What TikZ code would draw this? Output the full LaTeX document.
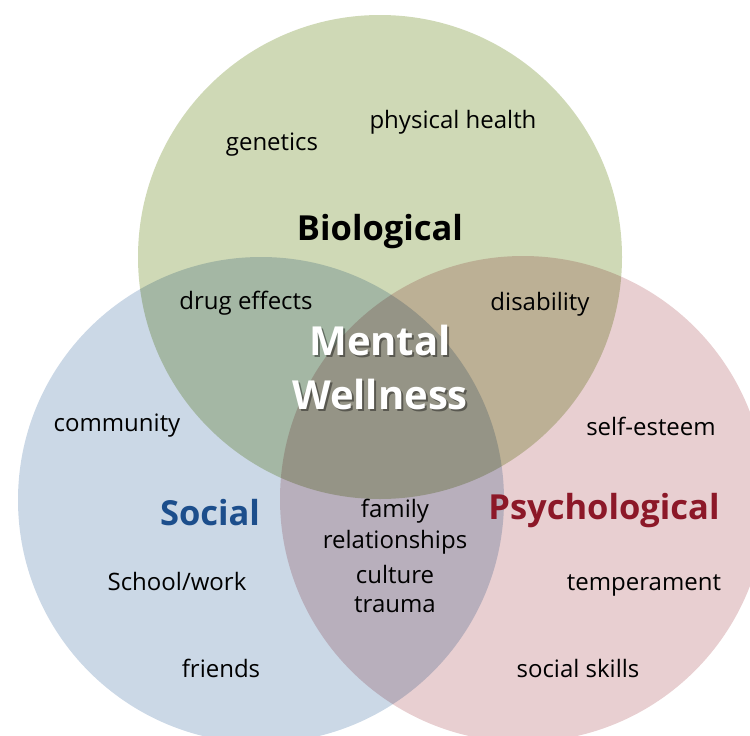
\documentclass[tikz,border=0pt]{standalone}
\usepackage{fontspec}
\setmainfont{Open Sans}
\usetikzlibrary{positioning}
\definecolor{bioGreen}{RGB}{207,217,182}
\definecolor{socBlue}{RGB}{203,216,230}
\definecolor{psyPink}{RGB}{232,207,209}
\definecolor{socText}{RGB}{28,78,140}
\definecolor{psyText}{RGB}{140,24,40}
\tikzset{
    factor/.style={font=\fontsize{24}{28}\selectfont,text=black,inner sep=0pt},
    title/.style={font=\fontsize{34.5}{38}\selectfont\bfseries,inner sep=0pt},
    wellness/.style={font=\fontsize{40}{44}\selectfont\bfseries,inner sep=0pt,text=white},
    shade/.style={font=\fontsize{40}{44}\selectfont\bfseries,inner sep=0pt,text=black,opacity=0.4}
    }
\begin{document}
\begin{tikzpicture}[x=1pt,y=-1pt]
\useasboundingbox (0,0) rectangle (750,736);
\clip (0,0) rectangle (750,736);
% the three circles, mixed by multiplying
\begin{scope}[blend group=multiply]
\fill[bioGreen] (380,257) circle (242);
\fill[socBlue] (261,500) circle (243);
\fill[psyPink] (523,499) circle (243);
\end{scope}
% biological
\node[factor] (genetics) at (272,145) {genetics};
\node[factor] (physical) at (453,122) {physical health};
\node[title] (bio) at (380,232) {Biological};
% overlaps
\node[factor] (drug) at (246,303) {drug effects};
\node[factor] (disab) at (540,304) {disability};
\node[shade] at (382,342) {Mental};
\node[wellness] (mental) at (380,340) {Mental};
\node[shade] at (382,396) {Wellness};
\node[wellness] (wellness) at (380,394) {Wellness};
\node[factor] (family) at (395,511) {family};
\node[factor] (relat) at (395,542) {relationships};
\node[factor] (culture) at (395,574) {culture};
\node[factor] (trauma) at (395,605) {trauma};
% social
\node[factor] (community) at (117,426) {community};
\node[title,text=socText] (soc) at (210,513) {Social};
\node[factor] (school) at (177,581) {School/work};
\node[factor] (friends) at (221,668) {friends};
% psychological
\node[factor] (esteem) at (651,426) {self-esteem};
\node[title,text=psyText] (psy) at (604,511) {Psychological};
\node[factor] (temper) at (644,585) {temperament};
\node[factor] (skills) at (578,668) {social skills};
\end{tikzpicture}
\end{document}
